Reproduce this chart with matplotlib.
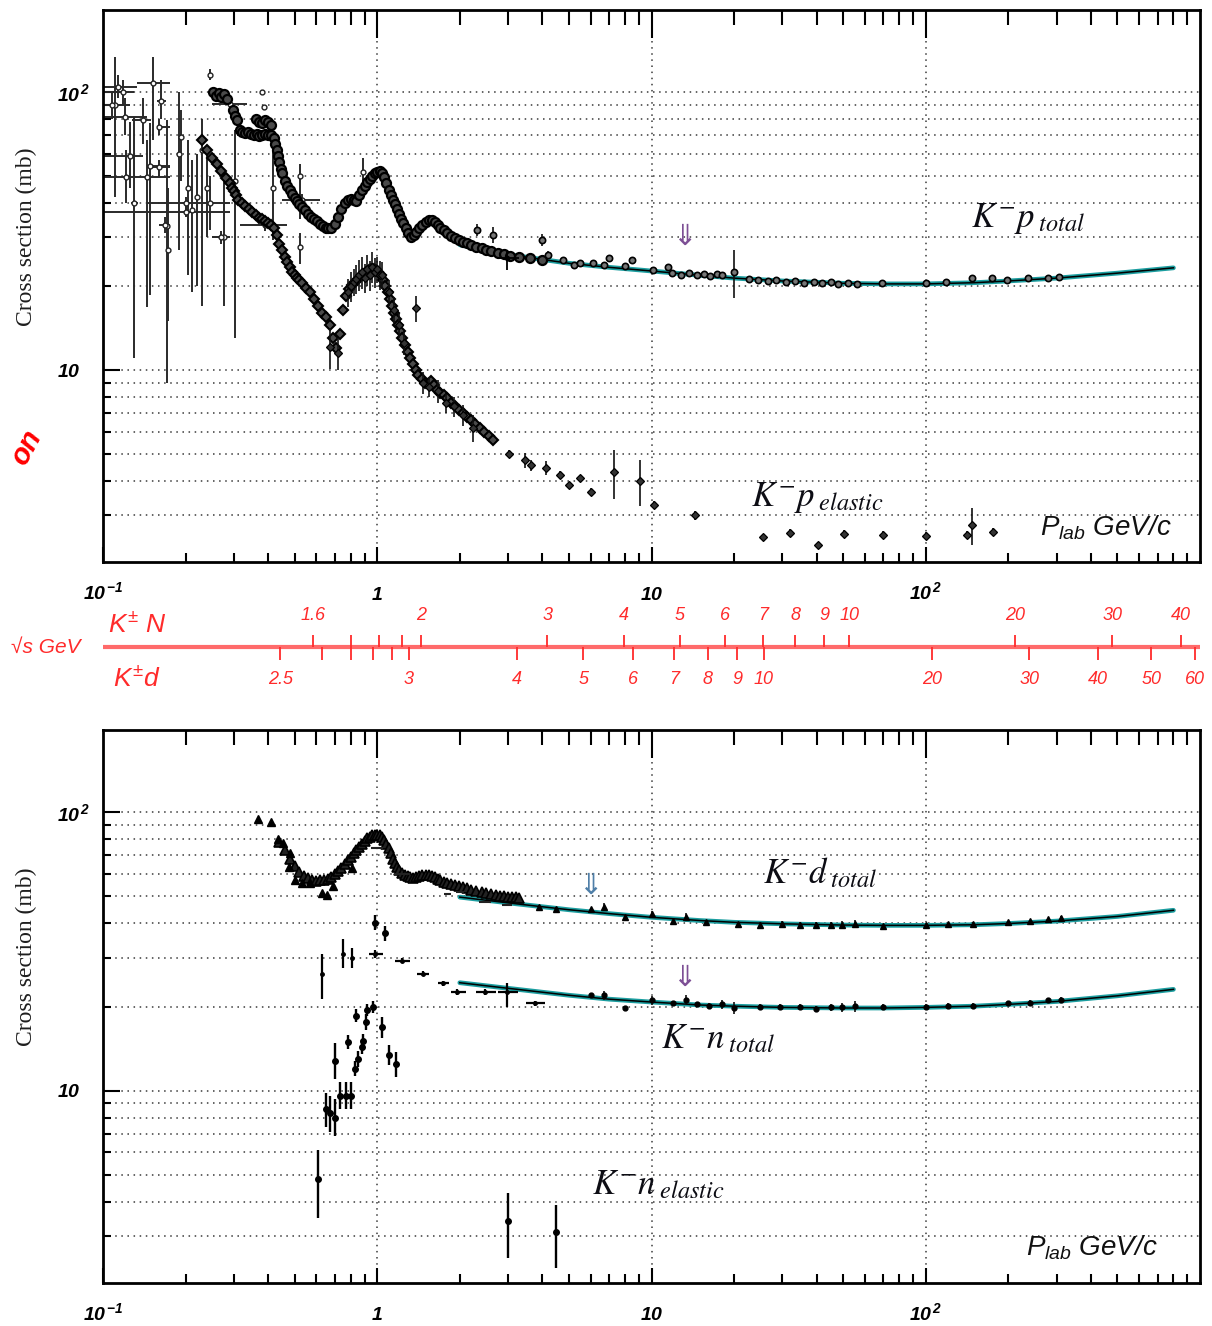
import numpy as np
import matplotlib
matplotlib.use("Agg")
import matplotlib.pyplot as plt
from matplotlib.ticker import FixedLocator, FixedFormatter, NullFormatter

plt.rcParams.update({
    'mathtext.fontset': 'custom',
    'mathtext.rm': 'Liberation Sans:italic',
    'mathtext.it': 'Liberation Sans:italic',
    'mathtext.bf': 'Liberation Sans:italic:bold',
    'mathtext.sf': 'Liberation Sans:italic',
    'font.family': ['Liberation Sans', 'DejaVu Sans'],
})

# ====================== DATA (P_lab in GeV/c, cross sections in mb) ======================
# ---- top panel: K- p total, dense resonance band
kpt_band_x = [0.252, 0.258, 0.264, 0.270, 0.277, 0.283, 0.298, 0.303, 0.308, 0.316, 0.322, 0.330, 0.338, 0.346,
              0.355, 0.363, 0.372, 0.380, 0.390, 0.400, 0.410, 0.360, 0.370, 0.380, 0.390, 0.400, 0.410,
              0.420, 0.425, 0.430, 0.435, 0.440, 0.445, 0.450, 0.460, 0.470, 0.480, 0.490, 0.500, 0.510, 0.520,
              0.530, 0.545, 0.560, 0.575, 0.590, 0.605, 0.620, 0.635, 0.650, 0.660, 0.680, 0.700, 0.720, 0.740,
              0.760, 0.780, 0.800, 0.820, 0.840, 0.860, 0.880, 0.900, 0.920, 0.940, 0.960, 0.980, 1.000, 1.020,
              1.040, 1.060, 1.080, 1.100, 1.120, 1.140, 1.160, 1.180, 1.200, 1.220, 1.240, 1.270, 1.300, 1.330,
              1.360, 1.390, 1.420, 1.460, 1.500, 1.540, 1.580, 1.620, 1.660, 1.700, 1.750, 1.800, 1.860, 1.920,
              1.980, 2.050, 2.120, 2.200, 2.300, 2.400, 2.500, 2.600, 2.750, 2.900, 3.050, 3.300, 3.600, 4.000]
kpt_band_y = [100, 97, 99, 96, 98, 94, 86, 82, 79, 73, 72, 71, 71.5, 70.5,
              70, 70.5, 69.5, 70, 70.5, 70, 70, 80, 78, 77, 79, 78, 76,
              68, 65, 62, 59, 56, 53, 51, 48, 46, 44.5, 43, 41.5, 40.5, 39.5,
              38.5, 37.5, 36.5, 35.5, 35, 34.2, 33.5, 33, 32.5, 32.3, 32.4, 33.5, 35.5, 38,
              40, 41, 41.2, 41, 40.5, 42.5, 44.5, 46, 47.5, 48.8, 50, 51, 51.7, 52,
              51.3, 49.5, 47, 44.5, 42.5, 41, 39.5, 38, 36.5, 35, 33.8, 32.5, 31, 30.2,
              30.5, 31.3, 32.3, 33.3, 34, 34.5, 34.5, 34, 33.2, 32.4, 31.8, 31, 30.3, 29.8,
              29.3, 28.9, 28.6, 28.2, 27.8, 27.5, 27.1, 26.8, 26.4, 26.1, 25.8, 25.5, 25.2, 24.8]

# ---- K- p total, points with error bars
kpt_pts_x = [2.32, 2.65, 4.0, 4.2, 4.77, 5.2, 5.5, 6.1, 6.7, 7.0, 8.0, 8.5, 10.1, 11.5, 11.9, 12.8, 13.7,
             14.6, 15.5, 16.4, 17.4, 18.0, 20.0, 22.6, 24.5, 26.5, 28.5, 31, 33.5, 36, 39, 42, 45, 48, 52, 56,
             69.5, 100, 119, 148, 174, 198, 236, 278, 307]
kpt_pts_y = [31.9, 30.7, 29.4, 25.9, 24.9, 23.9, 24.3, 24.3, 23.9, 25.3, 23.7, 24.9, 22.9, 23.4, 22.4, 22.0, 22.3,
             21.9, 22.2, 21.8, 22.1, 21.9, 22.6, 21.2, 21.0, 20.9, 21.1, 20.7, 20.9, 20.6, 20.8, 20.5, 20.7, 20.4,
             20.6, 20.4, 20.6, 20.6, 20.7, 21.4, 21.4, 21.1, 21.4, 21.4, 21.6]
kpt_pts_err = [1.5, 2.0, 1.5, 0.8, 0.5, 0.5, 0.5, 0.5, 0.5, 0.6, 0.5, 0.6, 0.6, 0.5, 0.4, 0.4, 0.5,
               0.4, 0.4, 0.5, 0.4, 0.4, 4.5, 0.3, 0.4, 0.3, 0.3, 0.3, 0.3, 0.3, 0.3, 0.4, 0.3, 0.3,
               0.4, 0.3, 0.3, 0.5, 0.3, 0.6, 0.5, 0.3, 0.3, 0.3, 0.3]

# ---- K- p total, fit curve
kpt_fit_x = [2.0, 3.0, 5.0, 7.0, 10, 15, 20, 30, 50, 70, 100, 150, 200, 300, 500, 800]
kpt_fit_y = [28.2, 26.0, 24.2, 23.4, 22.7, 21.9, 21.4, 20.9, 20.5, 20.4, 20.4, 20.6, 20.9, 21.4, 22.3, 23.3]

# ---- K- p elastic, dense band
kpe_band_x = [0.23, 0.24, 0.25, 0.26, 0.27, 0.28, 0.29, 0.295, 0.30, 0.305, 0.31, 0.32, 0.33, 0.34, 0.35, 0.36,
              0.37, 0.38, 0.39, 0.40, 0.41, 0.42, 0.43, 0.44, 0.45, 0.46, 0.47, 0.48, 0.49, 0.50, 0.51, 0.52,
              0.53, 0.55, 0.57, 0.59, 0.61, 0.63, 0.65, 0.67, 0.69, 0.71, 0.73, 0.75, 0.77, 0.79, 0.81, 0.83,
              0.85, 0.87, 0.89, 0.91, 0.93, 0.95, 0.97, 0.99, 1.01, 1.03, 1.05, 1.07, 1.09, 1.11, 1.13, 1.15,
              1.17, 1.19, 1.21, 1.23, 1.26, 1.29, 1.32, 1.35, 1.38, 1.41, 1.45, 1.49, 1.53, 1.57, 1.61, 1.65,
              1.70, 1.75, 1.80, 1.86, 1.92, 1.98, 2.05, 2.12, 2.20, 2.28, 2.36, 2.45, 2.55, 2.65]
kpe_band_y = [67, 62, 58, 55, 52, 49, 47, 45, 44, 42.5, 41, 40, 39, 38, 37, 36,
              35.3, 34.8, 34.3, 33.8, 33.3, 32.3, 30.5, 28.5, 27, 25.5, 24.5, 23.5, 22.5, 22, 21.5, 21,
              20.5, 19.7, 19, 18, 17, 16, 15.5, 14.5, 13, 12, 13.5, 16.5, 18.5, 19.5, 20.2, 20.8,
              21.3, 21.8, 22.2, 22.5, 22.8, 23, 23, 22.8, 22.5, 22, 21, 20, 19, 18, 17, 16,
              15.2, 14.5, 13.8, 13, 12.3, 11.6, 11, 10.5, 10, 9.6, 9.3, 9.0, 8.9, 9.1, 8.8, 8.5,
              8.3, 8.1, 7.9, 7.6, 7.4, 7.2, 7.0, 6.8, 6.6, 6.4, 6.2, 6.0, 5.8, 5.6]

# ---- K- p elastic, points with error bars
kpe_pts_x = [0.674, 0.72, 0.78, 0.80, 0.82, 0.84, 0.86, 0.88, 0.90, 0.92, 0.94, 0.96, 0.98, 1.0, 1.02, 1.04,
             1.1, 1.15, 1.2, 1.25, 1.39, 1.47, 1.55, 1.66, 1.78, 1.9, 2.05, 2.24,
             3.03, 3.47, 3.65, 4.14, 4.62, 5.0, 5.5, 6.04, 7.3, 9.05, 10.2, 14.4, 25.4, 32, 40.3, 50.2, 70,
             100, 141, 147, 176]
kpe_pts_y = [12.1, 11.5, 19, 20, 20.8, 21.3, 22, 22.5, 21.5, 23, 22, 23.5, 22.5, 23, 22, 22,
             19, 16.5, 14.5, 12.5, 16.7, 9.0, 8.7, 8.4, 7.6, 7.4, 6.9, 6.2,
             5.0, 4.75, 4.55, 4.45, 4.2, 3.86, 4.1, 3.64, 4.3, 4.0, 3.27, 3.0, 2.5, 2.59, 2.35, 2.57, 2.55,
             2.53, 2.55, 2.77, 2.62]
kpe_pts_err = [2.0, 1.5, 2.2, 2.5, 2.3, 2.5, 2.8, 3.0, 2.6, 3.0, 2.7, 3.0, 2.8, 2.5, 2.6, 2.5,
               2.0, 1.8, 1.5, 1.2, 1.8, 0.8, 0.7, 0.8, 0.6, 0.6, 0.6, 0.7,
               0.15, 0.3, 0.2, 0.25, 0.15, 0.1, 0.05, 0.12, 0.85, 0.75, 0.1, 0.1, 0.05, 0.08, 0.05, 0.08, 0.08,
               0.08, 0.08, 0.42, 0.08]

# ---- low-momentum K- p measurements with large x / y uncertainties (values and bounds)
lo_x = [0.111, 0.113, 0.118, 0.108, 0.120, 0.125, 0.130, 0.121, 0.152, 0.163, 0.140, 0.145, 0.149, 0.171,
        0.173, 0.189, 0.193, 0.204, 0.211, 0.220, 0.230, 0.240, 0.246, 0.277, 0.303, 0.200, 0.160, 0.200,
        0.168, 0.270, 0.160, 0.417, 0.524, 0.524, 0.530, 0.390, 0.890, 0.246, 0.290, 0.360, 0.380, 0.385]
lo_y = [90, 104, 100, 89.8, 81, 59, 40, 49.5, 108, 93, 79, 49.5, 54, 33,
        27, 60, 69, 45, 37.6, 42, 62, 45, 40, 30, 48, 37, 53.6, 39.8,
        33.3, 30, 75, 45, 50, 27.7, 41, 33.3, 51.5, 115, 90.6, 70, 100, 88]
lo_ylo = [42, 95, 90, 80, 70, 45, 11, 40, 67, 80, 65, 16.9, 18.6, 9,
          15, 27, 48, 22, 19, 20, 17, 30, 32, 17, 13, 35.5, 50, 37.5,
          31, 28.5, 70, 29.4, 35, 24, 39, 31.5, 46, 110, 89, 69, 98, 86]
lo_yhi = [134, 115, 110, 100, 95, 78, 81, 62, 134, 110, 95, 67, 77, 79,
          45, 100, 86, 67, 57, 60, 80, 62, 50, 51, 73, 38.5, 57, 42,
          35.5, 31.5, 80, 69, 55, 31, 43, 35, 58, 121, 92, 71, 102, 90]
lo_xlo = [0.106, 0.100, 0.100, 0.100, 0.100, 0.100, 0.126, 0.100, 0.133, 0.157, 0.128, 0.143, 0.146, 0.168,
          0.170, 0.186, 0.190, 0.200, 0.207, 0.216, 0.226, 0.236, 0.242, 0.250, 0.298, 0.100, 0.145, 0.145,
          0.160, 0.250, 0.157, 0.413, 0.516, 0.516, 0.450, 0.316, 0.880, 0.242, 0.250, 0.308, 0.377, 0.382]
lo_xhi = [0.116, 0.133, 0.130, 0.125, 0.145, 0.140, 0.134, 0.176, 0.176, 0.170, 0.150, 0.147, 0.176, 0.174,
          0.176, 0.192, 0.196, 0.208, 0.215, 0.224, 0.234, 0.244, 0.250, 0.290, 0.308, 0.290, 0.176, 0.290,
          0.176, 0.290, 0.176, 0.421, 0.532, 0.532, 0.620, 0.470, 0.900, 0.250, 0.335, 0.417, 0.383, 0.388]

# ---- bottom panel: K- d total
kd_tri_x = [0.366, 0.41, 0.435, 0.454, 0.48, 0.477, 0.502, 0.533, 0.57, 0.63, 0.657, 0.69, 0.81]
kd_tri_y = [94.5, 92.4, 80, 77.4, 71, 63.5, 56.9, 55.6, 55.6, 51.1, 50.3, 54.1, 62.9]
kd_band_x = [0.44, 0.46, 0.48, 0.50, 0.52, 0.54, 0.56, 0.58, 0.60, 0.62, 0.64, 0.66, 0.68, 0.70, 0.72, 0.74,
             0.76, 0.78, 0.80, 0.82, 0.84, 0.86, 0.88, 0.90, 0.92, 0.94, 0.96, 0.98, 1.00, 1.02, 1.04, 1.06,
             1.08, 1.10, 1.12, 1.14, 1.16, 1.18, 1.20, 1.23, 1.26, 1.29, 1.32, 1.35, 1.38, 1.42, 1.46, 1.50,
             1.54, 1.58, 1.62, 1.66, 1.70, 1.75, 1.80, 1.86, 1.92, 1.98, 2.05, 2.12, 2.20, 2.30, 2.40, 2.50,
             2.60, 2.70, 2.80, 2.90, 3.00, 3.10, 3.20, 3.30]
kd_band_y = [78, 73, 68, 64, 61, 59, 58, 57, 56.7, 56.8, 57, 57.5, 58.5, 60, 61.5, 63,
             65, 67, 69, 71, 73, 75, 77, 79, 80.5, 81.5, 82.5, 83, 83, 82.5, 81.5, 79.5,
             77, 74, 71, 68, 65.5, 63.5, 62, 60.5, 59.5, 58.8, 58.3, 58, 58.3, 58.8, 59.3, 59.5,
             59.5, 59, 58.3, 57.5, 56.8, 56.2, 55.7, 55.2, 54.7, 54.2, 53.7, 53.2, 52.7, 52.1, 51.6, 51.1,
             50.7, 50.3, 50.0, 49.8, 49.6, 49.5, 49.4, 49.3]
kd_cross_x = [1.0, 1.23, 1.8, 2.0, 2.48, 2.98]
kd_cross_y = [74.2, 60, 51, 51.5, 47.4, 46.3]
kd_cross_xlo = [0.95, 1.15, 1.75, 1.93, 2.35, 2.85]
kd_cross_xhi = [1.05, 1.32, 1.86, 2.07, 2.60, 3.10]
kd_pts_x = [3.9, 4.5, 6.04, 6.7, 8.0, 10.0, 12.0, 13.4, 15.8, 20.6, 24.8, 29.8, 34.8, 39.8, 45.3, 49.3,
            55, 70, 100, 121, 149, 199, 239, 278, 311]
kd_pts_y = [45.5, 44.8, 44.8, 45.5, 42, 43, 40.5, 42, 40.3, 39.6, 39.3, 39.6, 39.3, 39.3, 39.3, 39.3,
            39.8, 38.9, 39.3, 39.6, 39.8, 40.3, 40.6, 41.3, 41.6]
kd_pts_err = [0.8, 0.8, 0.6, 1.5, 0.4, 1.2, 0.4, 1.5, 0.4, 0.8, 0.9, 1.0, 0.9, 0.9, 1.0, 1.2,
              1.3, 0.4, 0.5, 0.4, 0.4, 0.4, 0.4, 0.4, 0.8]
kd_fit_x = [2.0, 3.0, 5.0, 7.0, 10, 15, 20, 30, 50, 70, 100, 150, 200, 300, 500, 800]
kd_fit_y = [49.5, 47.2, 44.6, 43.2, 41.9, 40.8, 40.2, 39.7, 39.3, 39.2, 39.2, 39.4, 39.8, 40.6, 42.2, 44.4]

# ---- K- n total
kn_cross_x = [0.63, 0.75, 0.81, 0.98, 1.23, 1.47, 1.73, 1.96, 2.48, 2.98, 3.77]
kn_cross_y = [26.3, 31, 30, 31, 29.3, 26.3, 24.3, 22.6, 22.6, 22.6, 20.6]
kn_cross_ylo = [21.4, 27.5, 27.5, 30, 28.7, 25.7, 23.8, 22.1, 22.0, 19.9, 20.2]
kn_cross_yhi = [31, 35, 32.5, 32, 29.9, 26.9, 24.8, 23.1, 23.2, 24.4, 21.0]
kn_cross_xlo = [0.625, 0.745, 0.805, 0.93, 1.16, 1.40, 1.66, 1.85, 2.30, 2.75, 3.50]
kn_cross_xhi = [0.635, 0.755, 0.815, 1.05, 1.32, 1.55, 1.82, 2.10, 2.70, 3.25, 4.10]
kn_pts_x = [6.0, 6.7, 8.0, 10, 12, 13.4, 14.6, 16.2, 18, 20, 24.8, 29.3, 34.8, 39.8, 45.3, 49.3, 55, 70,
            100, 121, 149, 199, 239, 278, 311]
kn_pts_y = [22, 22, 19.8, 21.1, 20.6, 21.2, 20.4, 20.2, 20.4, 19.8, 19.9, 19.9, 19.9, 19.7, 19.9, 19.9, 20.1, 20,
            20, 20.2, 20.2, 20.6, 20.7, 21.1, 21.2]
kn_pts_err = [0.4, 0.8, 0.3, 0.8, 0.4, 0.8, 0.4, 0.5, 0.8, 1.0, 0.5, 0.5, 0.5, 0.5, 0.6, 0.7, 0.9, 0.4,
              0.4, 0.4, 0.4, 0.4, 0.4, 0.4, 0.5]
kn_fit_x = [2.0, 3.0, 5.0, 7.0, 10, 15, 20, 30, 50, 70, 100, 150, 200, 300, 500, 800]
kn_fit_y = [24.4, 23.3, 22.0, 21.3, 20.8, 20.3, 20.1, 19.9, 19.8, 19.8, 19.9, 20.1, 20.4, 20.9, 21.9, 23.1]

# ---- K- n elastic
kne_x = [0.61, 0.65, 0.67, 0.70, 0.70, 0.73, 0.77, 0.80, 0.78, 0.83, 0.85, 0.84, 0.88, 0.89, 0.91, 0.92,
         0.967, 0.98, 1.04, 1.07, 1.10, 1.17, 3.0, 4.5]
kne_y = [4.8, 8.6, 8.3, 8.0, 12.8, 9.6, 9.6, 9.6, 14.9, 12, 13, 18.6, 14.3, 15.1, 17.6, 19.4,
         19.9, 39.9, 16.9, 36.7, 13.4, 12.5, 3.41, 3.11]
kne_lo = [3.5, 7.4, 7.1, 6.9, 11.0, 8.6, 8.6, 8.6, 14.1, 11.3, 12.2, 17.6, 13.5, 14.3, 16.5, 18.5,
          19.0, 37.7, 15.5, 34.5, 12.4, 11.2, 2.5, 2.3]
kne_hi = [6.1, 9.8, 9.6, 9.3, 14.8, 10.7, 10.7, 10.7, 15.8, 12.8, 13.9, 19.6, 15.2, 16.0, 18.8, 20.5,
          20.9, 42.7, 18.4, 39.0, 14.6, 13.8, 4.3, 3.9]

# ---- sqrt(s) scales (GeV)
kn_sqrts_ticks = [1.6, 1.7, 1.8, 1.9, 2, 3, 4, 5, 6, 7, 8, 9, 10, 20, 30, 40]
kn_sqrts_labels = [1.6, 2, 3, 4, 5, 6, 7, 8, 9, 10, 20, 30, 40]
kd_sqrts_ticks = [2.5, 2.6, 2.7, 2.8, 2.9, 3, 4, 5, 6, 7, 8, 9, 10, 20, 30, 40, 50, 60]
kd_sqrts_labels = [2.5, 3, 4, 5, 6, 7, 8, 9, 10, 20, 30, 40, 50, 60]
M_K, M_N, M_D = 0.493677, 0.938919, 1.875613

# ====================== FIGURE ======================
W, H = 1212, 1326
fig = plt.figure(figsize=(W / 100, H / 100), dpi=100)


def rect(l, t, r, b):
    return [l / W, 1 - b / H, (r - l) / W, (b - t) / H]


X_MAJOR = [0.1, 1, 10, 100]
X_LABELS = [r'$\mathbf{10}^{\,\mathbf{-1}}$', r'$\mathbf{1}$', r'$\mathbf{10}$', r'$\mathbf{10}^{\,\mathbf{2}}$']
X_MINOR = [m * d for d in (0.1, 1, 10, 100) for m in range(2, 10)]
Y_MAJOR = [10, 100]
Y_LABELS = [r'$\mathbf{10}$', r'$\mathbf{10}^{\,\mathbf{2}}$']
Y_MINOR = [3, 4, 5, 6, 7, 8, 9, 20, 30, 40, 50, 60, 70, 80, 90]
GRID_LS = (0, (1, 3))
GRID_C = '#3a3a3a'


def style_panel(ax):
    ax.set_xscale('log')
    ax.set_yscale('log')
    ax.set_xlim(0.1, 1000)
    ax.set_ylim(2.04, 197)
    for s in ax.spines.values():
        s.set_linewidth(2.0)
    for v in Y_MINOR + Y_MAJOR:
        ax.axhline(v, color=GRID_C, lw=1.1, ls=GRID_LS, zorder=0.6)
    for v in [1, 10, 100]:
        ax.axvline(v, color=GRID_C, lw=1.1, ls=GRID_LS, zorder=0.6)
    axt = ax.twiny()
    axt.set_xscale('log')
    axt.set_xlim(0.1, 1000)
    axt.xaxis.set_major_locator(FixedLocator([1, 10, 100]))
    axt.xaxis.set_minor_locator(FixedLocator(X_MINOR))
    axt.xaxis.set_major_formatter(NullFormatter())
    axt.xaxis.set_minor_formatter(NullFormatter())
    axt.tick_params(axis='x', which='major', direction='in', length=20, width=1.5, top=True, labeltop=False)
    axt.tick_params(axis='x', which='minor', direction='in', length=11, width=1.5, top=True, labeltop=False)
    for s in axt.spines.values():
        s.set_visible(False)

    ax.xaxis.set_major_locator(FixedLocator(X_MAJOR))
    ax.xaxis.set_major_formatter(FixedFormatter(X_LABELS))
    ax.xaxis.set_minor_locator(FixedLocator(X_MINOR))
    ax.xaxis.set_minor_formatter(NullFormatter())
    ax.yaxis.set_major_locator(FixedLocator(Y_MAJOR))
    ax.yaxis.set_major_formatter(FixedFormatter(Y_LABELS))
    ax.yaxis.set_minor_locator(FixedLocator(Y_MINOR))
    ax.yaxis.set_minor_formatter(NullFormatter())
    ax.tick_params(axis='x', which='major', direction='in', length=11, width=1.5, pad=27,
                   labelsize=14, bottom=True, top=False)
    ax.tick_params(axis='x', which='minor', direction='in', length=6.5, width=1.5, bottom=True, top=False)
    ax.tick_params(axis='y', which='major', direction='in', length=12, width=1.5, pad=33,
                   labelsize=14, left=True, right=False)
    ax.tick_params(axis='y', which='minor', direction='in', length=6, width=1.5, left=True, right=False)
    for t in ax.xaxis.get_major_ticks():
        t.label1.set_verticalalignment('baseline')
    for t in ax.yaxis.get_major_ticks():
        t.label1.set_horizontalalignment('left')
        t.label1.set_verticalalignment('center_baseline')
    ax.set_ylabel('Cross section (mb)', family='Liberation Serif', fontsize=17, color='#1e1e1e')
    ax.yaxis.set_label_coords(-0.060, 0.59)


def fit_line(ax, x, y):
    ax.plot(x, y, color='#1c9ea0', lw=3.4, solid_capstyle='round', zorder=3)
    ax.plot(x, y, color='black', lw=1.1, zorder=3.1)


def rel(v, lo, hi):
    return [np.subtract(v, lo), np.subtract(hi, v)]


EB = dict(ecolor='#111111', elinewidth=1.2, capsize=0, ls='none')
LBL = dict(math_fontfamily='stix', fontsize=25, ha='left', va='center', color='#0d0d14')

# ---------------- top panel ----------------
ax1 = fig.add_axes(rect(103, 10, 1200, 562))
style_panel(ax1)
ax1.errorbar(lo_x, lo_y, yerr=rel(lo_y, lo_ylo, lo_yhi), xerr=rel(lo_x, lo_xlo, lo_xhi),
             fmt='o', ms=3.5, mfc='white', mec='#222222', mew=1.0, ecolor='#2a2a2a', elinewidth=1.4,
             capsize=0, zorder=2)
fit_line(ax1, kpt_fit_x, kpt_fit_y)
ax1.plot(kpt_band_x, kpt_band_y, 'o', ms=6.5, mfc='#4a4a4a', mec='black', mew=1.6, zorder=4)
ax1.errorbar(kpt_pts_x, kpt_pts_y, yerr=kpt_pts_err, fmt='o', ms=4.5, mfc='#777777', mec='black', mew=1.2,
             zorder=4, **EB)
ax1.errorbar([2.98], [25.3], yerr=[[2.4], [1.7]], xerr=[[0.24], [0.32]], fmt='o', ms=3, color='black',
             elinewidth=1.3, capsize=0, zorder=4)
ax1.plot(kpe_band_x, kpe_band_y, 'D', ms=5.5, mfc='#4a4a4a', mec='black', mew=1.5, zorder=4)
ax1.errorbar(kpe_pts_x, kpe_pts_y, yerr=kpe_pts_err, fmt='D', ms=4, mfc='#333333', mec='black', mew=0.9,
             zorder=4, **EB)

ax1.text(146, 35.2, r'$K^{-}p_{\;total}$', **LBL)
ax1.text(23, 3.49, r'$K^{-}p_{\;elastic}$', **LBL)
ax1.text(262, 2.72, r'$P_{lab}$ GeV/c', fontsize=20, style='italic', ha='left', va='center', color='#111111')
ax1.text(13.2, 30.0, '\u21d3', family='DejaVu Sans', fontsize=21, ha='center', va='center', color='#7d4f95')

# ---------------- bottom panel ----------------
ax2 = fig.add_axes(rect(103, 730, 1200, 1283))
style_panel(ax2)
fit_line(ax2, kd_fit_x, kd_fit_y)
fit_line(ax2, kn_fit_x, kn_fit_y)
ax2.plot(kd_band_x, kd_band_y, '^', ms=6.5, mfc='#222222', mec='black', mew=1.2, zorder=4)
ax2.plot(kd_tri_x, kd_tri_y, '^', ms=5.5, color='black', zorder=4)
ax2.errorbar(kd_cross_x, kd_cross_y, xerr=rel(kd_cross_x, kd_cross_xlo, kd_cross_xhi), fmt='none',
             ecolor='#222222', elinewidth=1.5, capsize=0, zorder=4)
ax2.errorbar(kd_pts_x, kd_pts_y, yerr=kd_pts_err, fmt='^', ms=4.5, color='black', zorder=4, **EB)
ax2.errorbar(kn_cross_x, kn_cross_y, yerr=rel(kn_cross_y, kn_cross_ylo, kn_cross_yhi),
             xerr=rel(kn_cross_x, kn_cross_xlo, kn_cross_xhi), fmt='o', ms=2.5, color='black',
             elinewidth=1.6, capsize=0, zorder=4)
ax2.errorbar(kn_pts_x, kn_pts_y, yerr=kn_pts_err, fmt='o', ms=3.5, color='black', zorder=4, **EB)
ax2.errorbar(kne_x, kne_y, yerr=rel(kne_y, kne_lo, kne_hi), fmt='o', ms=4, color='black',
             elinewidth=1.7, capsize=0, zorder=4)

ax2.text(25.6, 60.4, r'$K^{-}d_{\;total}$', **LBL)
ax2.text(10.8, 15.4, r'$K^{-}n_{\;total}$', **LBL)
ax2.text(6.09, 4.59, r'$K^{-}n_{\;elastic}$', **LBL)
ax2.text(232, 2.72, r'$P_{lab}$ GeV/c', fontsize=20, style='italic', ha='left', va='center', color='#111111')
ax2.text(6.0, 54.5, '\u21d3', family='DejaVu Sans', fontsize=21, ha='center', va='center', color='#4f7fa8')
ax2.text(13.2, 25.3, '\u21d3', family='DejaVu Sans', fontsize=21, ha='center', va='center', color='#7d4f95')

# ---------------- middle sqrt(s) scale ----------------
axm = fig.add_axes(rect(103, 597, 1200, 700))
axm.set_xscale('log')
axm.set_xlim(0.1, 1000)
axm.set_ylim(-53, 50)
axm.axis('off')


def plab(rs, mt):
    s = np.asarray(rs, float) ** 2
    e = (s - M_K ** 2 - mt ** 2) / (2 * mt)
    return np.sqrt(e ** 2 - M_K ** 2)


RED = '#ff2b2b'
axm.axhline(0, color='#ff6a6a', lw=3.0, zorder=1)
axm.vlines(plab(kn_sqrts_ticks, M_N), 0, 12, color=RED, lw=1.3)
axm.vlines(plab(kd_sqrts_ticks, M_D), -13, 0, color=RED, lw=1.3)
for v, p in zip(kn_sqrts_labels, plab(kn_sqrts_labels, M_N)):
    axm.text(p, 32, f'{v:g}', color=RED, fontsize=13, style='italic', ha='center', va='center')
for v, p in zip(kd_sqrts_labels, plab(kd_sqrts_labels, M_D)):
    axm.text(p, -33, f'{v:g}', color=RED, fontsize=13, style='italic', ha='center', va='center')
axm.text(0.1045, 22, r'$K^{\pm}\ N$', color=RED, fontsize=19, ha='left', va='center', clip_on=False)
axm.text(0.109, -31, r'$K^{\pm}d$', color=RED, fontsize=19, ha='left', va='center', clip_on=False)
axm.text(0.0463, 0, '\u221as GeV', color=RED, fontsize=15, style='italic', ha='left', va='center',
         clip_on=False)

# slide text fragment at the left edge
fig.text(26 / W, 1 - 448 / H, 'on', rotation=62, color='red', fontsize=21, weight='bold', style='italic',
         ha='center', va='center')

fig.savefig('out.png', dpi=100)
